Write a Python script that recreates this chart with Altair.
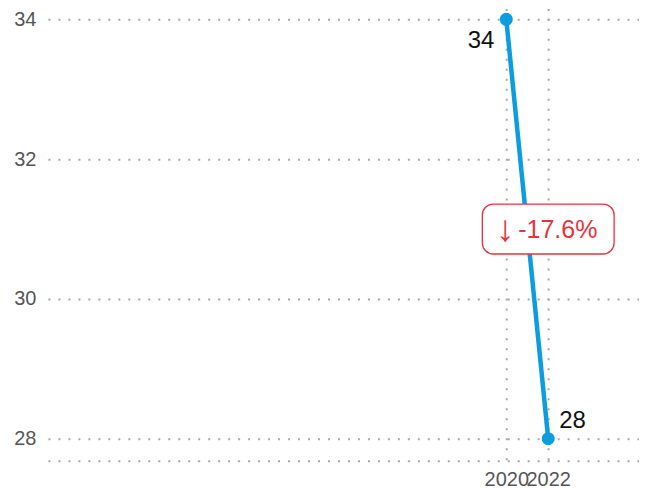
import altair as alt
import pandas as pd

years = [2020, 2022]
values = [34, 28]
y_ticks = [28, 30, 32, 34]
x_ticks = [2020, 2022]

pct = (values[1] - values[0]) / values[0] * 100
arrow = "↓" if pct < 0 else "↑"
pct_text = f"{pct:.1f}%"

df = pd.DataFrame({"year": years, "value": values, "label": [str(v) for v in values]})
ann = pd.DataFrame({"year": [years[1]], "value": [(values[0] + values[1]) / 2],
                    "arrow": [arrow], "text": [pct_text]})

FONT = "Liberation Sans"
BLUE = "#0a9de0"
RED = "#e8333c"
GRID = "#a8a8a8"

x_scale = alt.Scale(domain=[1998.14, 2026.33], nice=False, zero=False)
y_scale = alt.Scale(domain=[27.686, 34.157], nice=False, zero=False)

x_axis = alt.Axis(
    values=x_ticks, format="d", title=None, ticks=False, labelPadding=9,
    labelFontSize=20, labelColor="#555555", labelFont=FONT, labelOverlap=False,
    labelBound=False, labelFlush=False,
    domain=True, domainColor=GRID, domainDash=[2, 8], domainWidth=2,
    grid=True, gridColor=GRID, gridDash=[2, 8], gridWidth=2,
)
y_axis = alt.Axis(
    values=y_ticks, format="d", title=None, ticks=False, labelPadding=12,
    labelFontSize=20, labelColor="#555555", labelFont=FONT,
    domain=False,
    grid=True, gridColor=GRID, gridDash=[2, 8], gridWidth=2,
)

base = alt.Chart(df).encode(
    x=alt.X("year:Q", scale=x_scale, axis=x_axis),
    y=alt.Y("value:Q", scale=y_scale, axis=y_axis),
)

line = base.mark_line(color=BLUE, strokeWidth=4.5)
points = base.mark_point(filled=True, color=BLUE, size=170, opacity=1)

lab_first = base.transform_filter(alt.datum.year == years[0]).mark_text(
    align="right", baseline="middle", dx=-12, dy=22, fontSize=24, font=FONT, color="#111111"
).encode(text="label:N")
lab_last = base.transform_filter(alt.datum.year == years[1]).mark_text(
    align="left", baseline="middle", dx=11, dy=-18, fontSize=24, font=FONT, color="#111111"
).encode(text="label:N")

ann_base = alt.Chart(ann).encode(
    x=alt.X("year:Q", scale=x_scale),
    y=alt.Y("value:Q", scale=y_scale),
)
box = ann_base.mark_rect(
    fill="white", stroke=RED, strokeWidth=1.3, cornerRadius=11,
    xOffset=-66, x2Offset=66, yOffset=-25, y2Offset=25,
).encode(x2="year:Q", y2="value:Q")
ann_arrow = ann_base.mark_text(
    align="center", baseline="middle", fontSize=37, font=FONT, color=RED, dx=-43, dy=1
).encode(text="arrow:N")
ann_label = ann_base.mark_text(
    align="left", baseline="middle", fontSize=25, font=FONT, color=RED, dx=-30, dy=1
).encode(text="text:N")

chart = alt.layer(line, points, lab_first, lab_last, box, ann_arrow, ann_label).properties(
    width=592, height=453,
    autosize=alt.AutoSizeParams(type="none"),
    padding={"left": 40, "top": 0, "right": 0, "bottom": 30},
).configure_view(stroke=None)

chart.save("out.html", embed_options={"renderer": "svg", "actions": False})
